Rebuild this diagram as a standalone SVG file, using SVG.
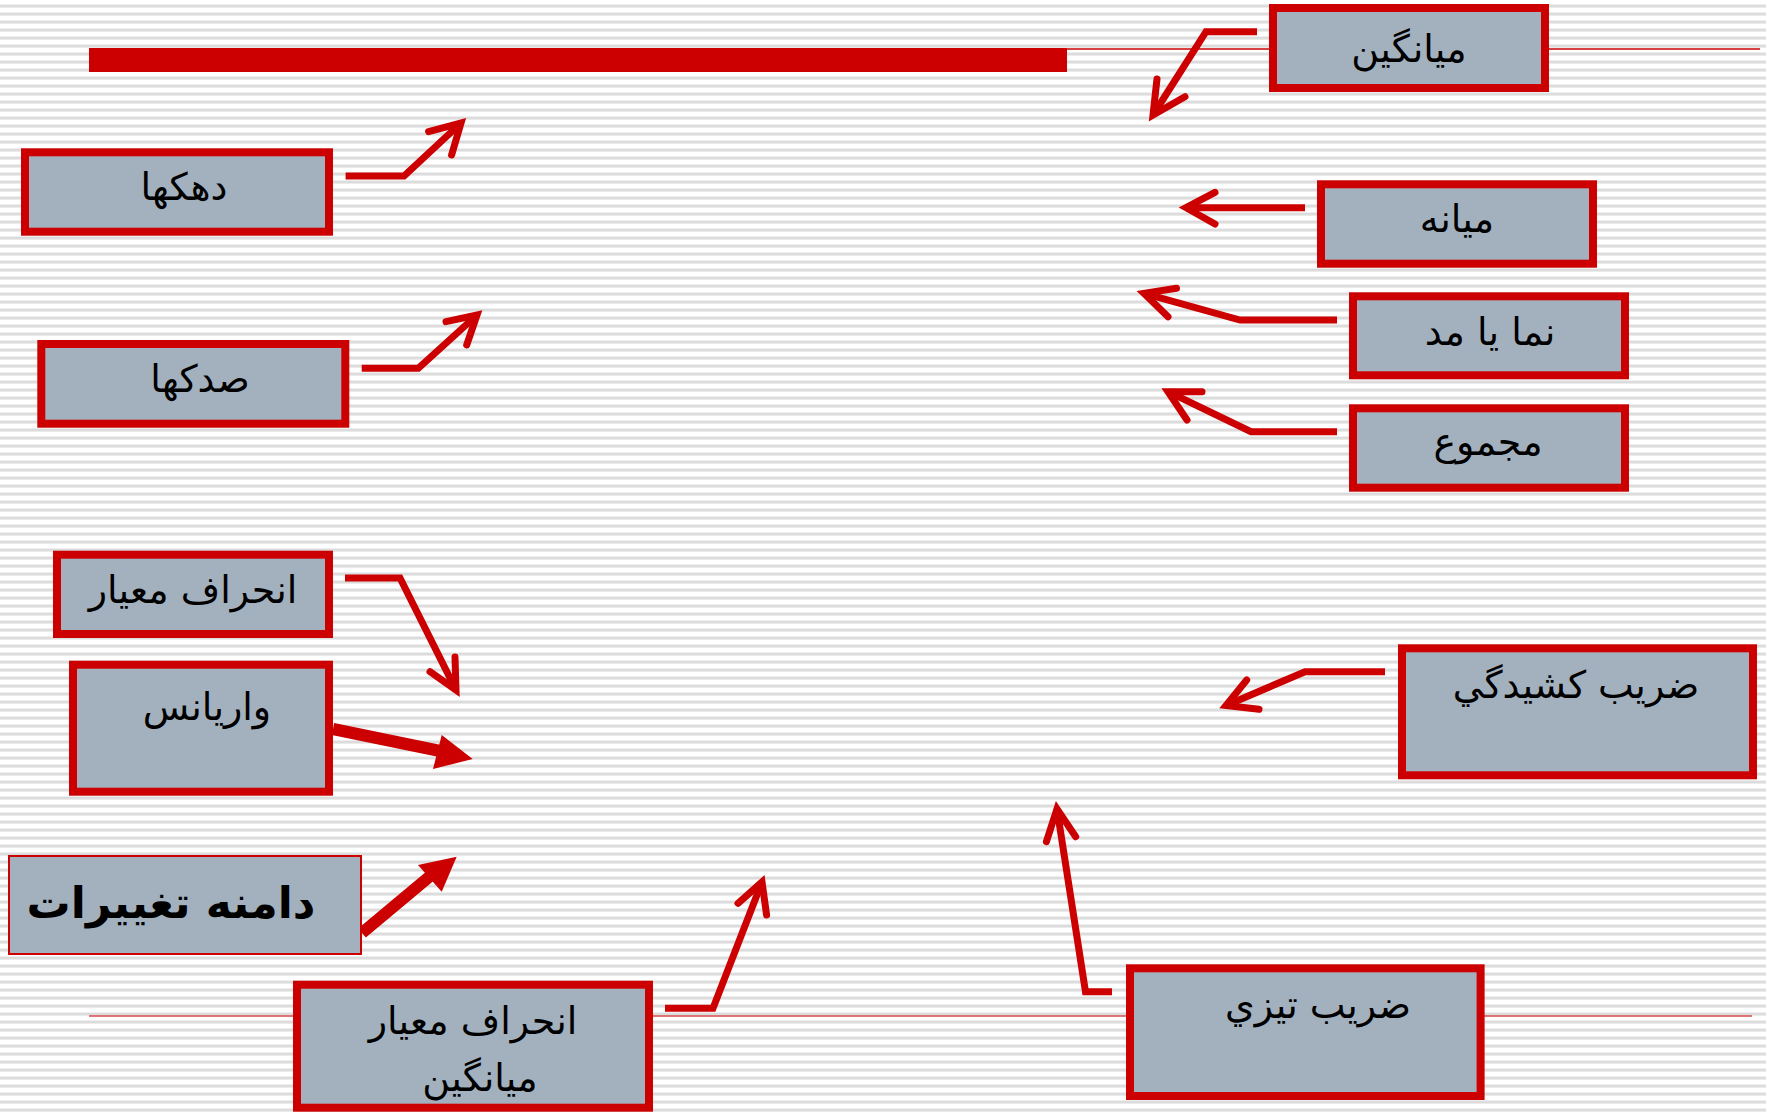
<svg xmlns="http://www.w3.org/2000/svg" width="1766" height="1112" viewBox="0 0 1766 1112">
<defs>
<pattern id="stripes" x="0" y="0" width="8" height="8" patternUnits="userSpaceOnUse">
<rect width="8" height="8" fill="#FFFFFF"/>
<rect y="4" width="8" height="1" fill="#EEEEEE"/>
<rect y="5" width="8" height="2" fill="#DCDCDC"/>
<rect y="7" width="8" height="1" fill="#EBEBEB"/>
</pattern>
<style>
.box{fill:#A3B1BF;stroke:#CC0000;stroke-width:8}
.thinbox{fill:#A3B1BF;stroke:#CC0000;stroke-width:2}
.lbl{font-family:"DejaVu Sans","Liberation Sans",sans-serif;font-size:38px;fill:#000;text-anchor:middle}
.big{font-family:"DejaVu Sans","Liberation Sans",sans-serif;font-size:44px;font-weight:bold;fill:#000;text-anchor:middle}
.ln{fill:none;stroke:#CC0000;stroke-width:7;stroke-linejoin:miter}
.hd{fill:none;stroke:#CC0000;stroke-width:7;stroke-linecap:round;stroke-linejoin:miter}
.thick{fill:none;stroke:#CC0000;stroke-width:12}
.tri{fill:#CC0000;stroke:none}
</style>
</defs>
<rect width="1766" height="1112" fill="url(#stripes)"/>
<g id="decor">
<line x1="89" y1="49" x2="1760" y2="49" stroke="#CC0000" stroke-width="1.5"/>
<rect x="89" y="48" width="978" height="24" fill="#CC0000"/>
<line x1="89" y1="1016" x2="1752" y2="1016" stroke="#D84A4A" stroke-width="1.5"/>
</g>
<g id="connectors">
<polyline class="ln" points="1257,31.7 1206,31.7 1153,115"/>
<polyline class="hd" points="1157,79 1153,115 1185,96.7"/>
<polyline class="ln" points="1305,207.7 1186,207.7"/>
<polyline class="hd" points="1215,192.3 1186,207.7 1215,224"/>
<polyline class="ln" points="1337,320 1240,320 1144,293.3"/>
<polyline class="hd" points="1176.5,288.3 1144,293.3 1168,316.7"/>
<polyline class="ln" points="1337,431.7 1251,431.7 1168,391.7"/>
<polyline class="hd" points="1202,391.7 1168,391.7 1187,420"/>
<polyline class="ln" points="345.6,176 404,176 461,123"/>
<polyline class="hd" points="428.6,131.7 461,123 451.6,155"/>
<polyline class="ln" points="361.7,368.3 418.3,368.3 477,315"/>
<polyline class="hd" points="446,321.7 477,315 466.7,345"/>
<polyline class="ln" points="345,578 400,578 456,690"/>
<polyline class="hd" points="455,657 456,690 430,671.7"/>
<line class="thick" x1="333" y1="729" x2="445" y2="752"/>
<polygon class="tri" points="441.7,735 472.7,759 433,769"/>
<line class="thick" x1="362" y1="933" x2="435" y2="872"/>
<polygon class="tri" points="418,865 456.7,856.7 441.7,891.7"/>
<polyline class="ln" points="665,1008.3 713,1008.3 762,882"/>
<polyline class="hd" points="738,903.3 762,882 766.6,915"/>
<polyline class="ln" points="1385,671.7 1305,671.7 1226,705.5"/>
<polyline class="hd" points="1246.7,680 1226,705.5 1259,709.3"/>
<polyline class="ln" points="1112,991.7 1085.5,991.7 1057,809"/>
<polyline class="hd" points="1046.4,841.7 1057,809 1075.7,836.7"/>
</g>
<g id="node-miangin">
<rect class="box" x="1273" y="8" width="272" height="80"/>
<text class="lbl" x="1409" y="62">میانگین</text>
</g>
<g id="node-miane">
<rect class="box" x="1321" y="184.3" width="272" height="79.4"/>
<text class="lbl" x="1457" y="232">میانه</text>
</g>
<g id="node-nama">
<rect class="box" x="1353" y="296.3" width="272" height="79"/>
<text class="lbl" x="1490" y="345">نما یا مد</text>
</g>
<g id="node-majmoo">
<rect class="box" x="1353" y="408.3" width="272" height="79.4"/>
<text class="lbl" x="1488" y="455">مجموع</text>
</g>
<g id="node-dahakha">
<rect class="box" x="25" y="152.3" width="304" height="79.4"/>
<text class="lbl" x="184" y="200">دهکها</text>
</g>
<g id="node-sadakha">
<rect class="box" x="41.3" y="344" width="304" height="79.7"/>
<text class="lbl" x="200" y="392">صدکها</text>
</g>
<g id="node-enheraf">
<rect class="box" x="57" y="554.7" width="272" height="79.3"/>
<text class="lbl" x="193" y="603">انحراف معیار</text>
</g>
<g id="node-variance">
<rect class="box" x="73" y="664.7" width="256" height="127"/>
<text class="lbl" x="207" y="720">واریانس</text>
</g>
<g id="node-damane">
<rect class="thinbox" x="9" y="856" width="352" height="98"/>
<text class="big" x="171" y="918">دامنه تغییرات</text>
</g>
<g id="node-enheraf-miangin">
<rect class="box" x="297" y="984.7" width="352" height="123"/>
<text class="lbl" x="473" y="1034">انحراف معیار</text>
<text class="lbl" x="480" y="1091">میانگین</text>
</g>
<g id="node-keshidegi">
<rect class="box" x="1402" y="648.3" width="351" height="127"/>
<text class="lbl" x="1576" y="698">ضریب کشیدگي</text>
</g>
<g id="node-tizi">
<rect class="box" x="1130" y="968.3" width="350.6" height="127.7"/>
<text class="lbl" x="1318" y="1018">ضریب تیزي</text>
</g>
</svg>
